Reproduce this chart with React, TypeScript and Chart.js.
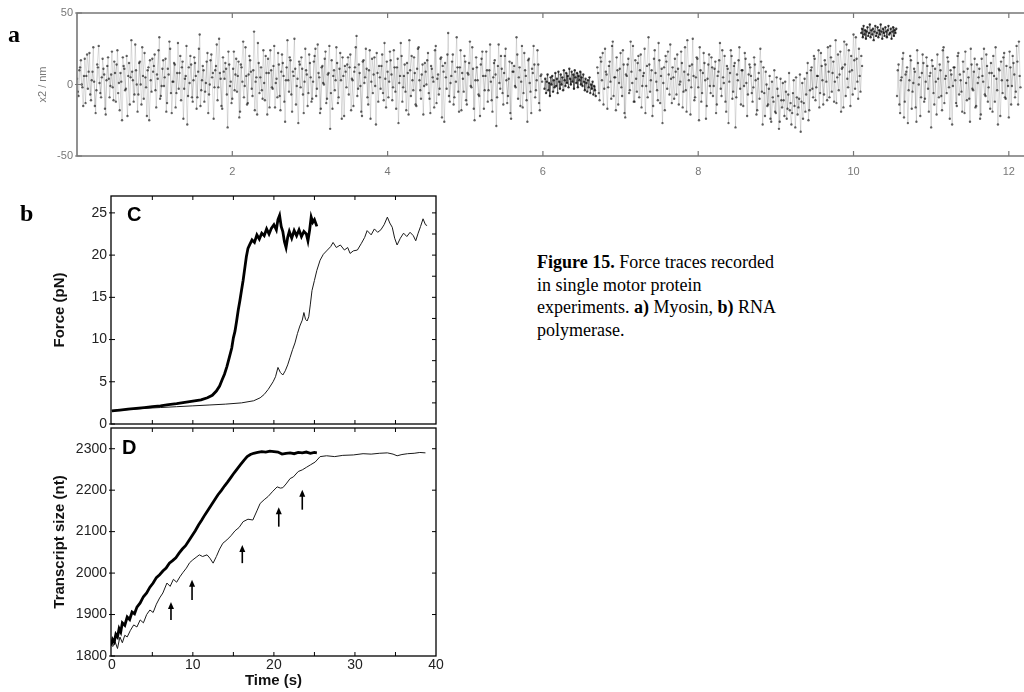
import React, { useEffect, useRef } from 'react';
import { Chart, registerables } from 'chart.js';

Chart.register(...registerables);

const SANS = '"Liberation Sans", Arial, Helvetica, sans-serif';
const SERIF = '"Liberation Serif", "Times New Roman", serif';

// ---------- Panel a (x2 / nm vs time) ----------
const A_STEP = 0.02;
const A_SEG1_START = 0;
const A_SEG1 = [
  4, -8, 12, 0, -15, 18, 6, -3, 22, -11, 9, 2, -20, 14, 27, -6, 5, 11, -17, 3, 19, -9, 7, -2, 16,
  -12, 24, 1, 8, -25, 13, -4, 20, 6, -14, 31, 3, -7, 10, -19, 15, 0, 26, -10, 5, -22, 12, 17, -5, 9,
  21, -16, 4, 33, -8, 11, -1, 18, -13, 7, 25, -20, 2, 14, -6, 29, 8, -11, 16, -3, 6, -28, 12, 20, -9,
  3, 15, -17, 9, 35, -4, 13, -12, 1, 22, -7, 17, 5, -24, 10, 28, -2, 8, -15, 19, 4, 11, -30, 14, 2,
  -10, 23, 7, -5, 16, -19, 12, 30, -1, 6, -13, 20, 9, -8, 37, 2, -21, 15, 5, -4, 24, -11, 8, 18, -16,
  10, -3, 27, 1, -9, 14, -18, 21, 6, -26, 12, 3, 19, -7, 9, 32, -14, 4, 16, -2, 11, -20, 25, 7, -6,
  15, -12, 2, 20, -8, 28, 5, -17, 13, 0, 23, -10, 8, -31, 17, 6, -4, 26, -13, 11, 3, 19, -22, 9, 14,
  -7, 21, 4, -15, 12, 34, -3, 8, -19, 16, 1, 25, -9, 10, -24, 18, 7, -1, 22, -12, 5, 13, -6, 29, -16,
  9, 2, 17, -11, 24, -5, 12, -27, 6, 20, -2, 14, -18, 8, 31, -8, 3, 19, -14, 11, 26, -4, 7, -21, 15,
  0, 22, -10, 13, 5, -16, 27, 4, -7, 18, -23, 9, 15, -3, 36, -12, 6, 21, -9, 2, 12, -19, 24, 8, -5,
  16, -14, 7, 30, -2, 11, -25, 19, 3, -8, 14, 23, -17, 6, 10, -4, 28, -11, 5, 17, -29, 13, 1, 20, -6,
  8, 25, -13, 4, -20, 15, 9, -1, 33, -10, 12, 2, -16, 22, 6, -26, 18, -5, 11, 27, -9, 3, 14, -18, 7,
];
const A_SEG1B_START = 0.01;
const A_SEG1B = [
  -5, 10, 17, -2, 6, -13, 21, 9, -7, 3, 26, -15, -4, 12, 1, -9, 18, 7, -21, 13, 4, -1, 23, -11, 8,
  14, -6, -18, 2, 19, 11, -3, -22, 15, 5, 9, -12, 28, 0, -7, 16, -14, 6, 22, -2, 10, -25, 3, 18, 13,
  -4, 7, 24, -10, -1, 17, 5, -19, 11, 30, -6, 2, 15, -16, 8, -3, 20, 12, -24, 4, 27, -8, 1, 14, -12,
  19, 6, -9, 25, -15, 3, 10, -5, 16, -20, 0, 21, 8, -2, 13, -11, 32, 4, -17, 9, 15, -7, 23, -1, -13,
  11, -4, 18, 6, -23, 14, 2, -9, 26, -14, 7, 17, -3, 10, -18, 5, 29, -6, 12, -10, 1, 20, -21, 8, 24,
  -2, 13, -16, 4, 22, -8, 9, 15, -12, 3, 31, -5, 17, -19, 6, 11, -1, -27, 14, 19, -7, 2, 10, -15, 21,
  5, -10, 16, 25, -3, 8, -20, 12, 1, 18, -13, 7, 27, -6, -17, 10, 3, 15, -9, 22, -24, 6, 13, -2, 19,
  12, -18, 3, 9, 26, -8, 14, -1, -22, 17, 5, 11, -14, 24, 2, -6, 19, -28, 8, 13, -3, 21, -11, 4, 16,
  -9, 23, 7, -2, 12, -17, 18, 1, 29, -12, 6, -5, 15, -21, 10, 20, -4, 8, -15, 25, 3, -10, 14, -1, 9,
  17, -6, -20, 11, 2, 24, -13, 7, -3, 19, 13, -26, 5, 21, -8, 1, 16, -14, 9, 33, -5, 12, -18, 4, 20,
  -11, 8, 15, -1, 26, -17, 3, 12, -7, -22, 18, 6, -4, 23, -12, 10, 2, -19, 15, 7, -9, 28, -3, 11, -14,
  20, 3, -8, 16, -24, 9, 13, -2, 21, 5, -15, 27, -6, 10, -11, 17, 1, -20, 8, 14, -4, 24, -13, 6, 2,
];
const A_SEG2_START = 6.7;
const A_SEG2 = [
  12, -6, 19, 3, -14, 25, 7, -2, 16, -10, 30, 5, -18, 10, 1, 22, -8, 14, -23, 6, 18, -4, 9, 27, -12,
  4, 15, -9, 21, -1, 8, -20, 13, 33, -5, 10, -15, 24, 2, -11, 17, 6, -27, 12, 20, -3, 7, 28, -13, 5,
  18, -7, 11, 0, 23, -16, 9, -4, 31, 3, -21, 14, 6, -9, 19, -2, 26, -12, 8, 15, -24, 4, 21, -6, 12,
  -1, 16, -14, 9, 29, -8, 5, 20, -19, 11, 2, 24, -10, 13, -30, 7, 17, -3, 10, -15, 22, 1, -7, 14, 6,
  -12, 19, 3, -18, 8, 25, -5, 12, -22, 0, -14, 6, -26, -9, 10, -20, -3, -31, 4, -16, -11, 2, -24, -7, -18,
  -28, -6, -15, 5, -21, -10, -33, 1, -13, -19, 8, -25, -4, 12, -9, 18, -2, 6, -16, 22, 3, -7, 14, -11, 9,
  27, -5, 16, 2, -13, 21, 7, -19, 12, 30, -8, 4, 24, -15, 10, 35, -3, 18, -10, 6, 20,
];
const A_SEG2B_START = 6.71;
const A_SEG2B = [
  8, -11, 16, 22, -3, 9, -17, 13, 2, 27, -8, 5, 19, -14, 11, -2, 24, -20, 7, 14, -6, 30, 1, -12, 17,
  -5, 20, 10, -16, 6, 25, -1, -9, 14, 3, -22, 18, 8, -4, 29, -13, 11, 1, -18, 16, 23, -7, 4, 12, -10,
  9, 21, -14, 2, 15, -5, 26, -19, 7, 13, -2, 32, -11, 5, 18, -25, 10, -6, 22, 3, -15, 14, -1, 19, -8,
  11, -20, 6, 17, -3, 24, 1, -12, 13, -27, 8, 20, -5, 15, -9, 3, 26, -14, 10, -1, 18, -22, 7, 12, -6,
  -2, 14, -21, 4, -10, 16, -28, -6, 9, -15, -3, -24, 2, -12, -19, 5, -8, -26, -11, 1, -22, -5, -17, 8, -13,
  -20, 3, -30, -9, -16, 7, -12, -24, 4, -7, 15, -18, 10, -3, 20, -11, 6, 24, -6, 13, -14, 17, 2, 26, -9,
  19, 8, -12, 31, 5, -4, 23, 11, -16, 14, 28, -2, 9, 20, -7, 17, 33, 2, 25, -5, 13,
];
const A_SEG3_START = 10.56;
const A_SEG3 = [
  -8, 14, -20, 5, 22, -12, 9, -27, 3, 17, -5, 11, -16, 24, 0, -22, 8, 15, -10, 19, -3, 6, -30, 13, -14,
  2, 21, -9, 10, -18, 26, 4, -6, 16, -24, 7, -1, 12, -13, 20, -7, 3, -19, 9, 23, -11, 5, -26, 14, -4,
  18, -15, 1, 11, -21, 6, 25, -8, 13, -2, -17, 8, 20, -12, 4, -28, 10, 16, -6, 22, -10, 3, -23, 12, -1,
  15, -9, 27, -14, 6,
];
const A_SEG3B_START = 10.57;
const A_SEG3B = [
  10, -14, 3, 18, -23, 7, 12, -4, 20, -17, 1, 9, -26, 15, 5, -9, 21, -12, 2, 13, -19, 8, 17, -6, 11,
  -21, 4, 14, -8, 24, -13, 6, 19, -2, 10, -28, 12, 3, -15, 22, 7, -5, 16, -20, 1, 11, -10, 25, -3, 9,
  -16, 14, 5, -24, 18, 2, -7, 21, -12, 8, 15, -19, 6, 26, -4, 11, -22, 3, 19, -9, 13, -1, 23, -14, 20,
  7, -5, 16, 30, -2,
];
const A_CL_STEP = 0.01;
const A_CL1_START = 6.02;
const A_CL1 = [
  -3, 4, -6, 2, 7, -4, 1, -8, 5, 0, 6, -5, 3, -2, 8, -1, 4, -6, 9, 2,
  -3, 7, 0, 5, -4, 10, 3, -1, 8, 1, 6, -2, 11, 4, 0, 9, 2, 7, -3, 10,
  5, 1, 8, -2, 6, 3, 9, 0, 5, -1, 7, 2, -4, 4, 1, -5, 3, -2, 5, -6,
  0, -3, 2, -7, -1, -4, -8,
];
const A_CL2_START = 10.1;
const A_CL2 = [
  36, 39, 33, 41, 35, 38, 32, 37, 40, 34, 36, 42, 33, 38, 35, 39, 31, 37, 41, 34,
  36, 40, 33, 38, 35, 42, 37, 32, 39, 36, 34, 40, 37, 33, 38, 41, 35, 36, 39, 32,
  37, 40, 34, 38, 36, 39,
];
const A_X_TICKS = [2, 4, 6, 8, 10, 12];
const A_Y_TICKS = [-50, 0, 50];

// ---------- Panel C (Force vs time) ----------
const C_THICK_T = [
  0, 1, 2, 3, 4, 5, 6, 7, 8, 9, 10, 11, 11.8, 12.4, 12.9, 13.3, 13.6, 13.9, 14.2, 14.5,
  14.8, 15.0, 15.2, 15.4, 15.6, 15.8, 16.0, 16.2, 16.4, 16.6, 16.8, 17.0, 17.3, 17.6, 17.9, 18.2, 18.5, 18.8, 19.1, 19.4,
  19.7, 20.0, 20.3, 20.5, 20.7, 20.9, 21.1, 21.3, 21.5, 21.7, 21.9, 22.2, 22.5, 22.8, 23.1, 23.4, 23.7, 24.0, 24.2, 24.4,
  24.6, 24.8, 25.0, 25.3,
];
const C_THICK_F = [
  1.55, 1.65, 1.75, 1.85, 1.95, 2.05, 2.15, 2.3, 2.4, 2.55, 2.7, 2.85, 3.1, 3.4, 3.9, 4.5, 5.2, 5.9, 6.8, 7.9,
  9.0, 10.2, 11.0, 12.2, 13.5, 14.6, 15.8, 17.0, 18.4, 19.8, 20.8, 21.2, 21.8, 21.5, 22.4, 21.9, 22.6, 22.3, 23.1, 22.5,
  23.2, 23.6, 23.0, 24.2, 24.7, 23.4, 22.8, 21.6, 20.9, 22.1, 22.8, 22.0, 22.9, 22.3, 23.0, 22.2, 22.8, 22.5, 21.7, 22.9,
  24.5, 23.9, 24.2, 23.4,
];
const C_THIN_T = [
  0, 2, 4, 6, 8, 10, 12, 14, 16, 17.5, 18.3, 18.8, 19.3, 19.9, 20.2, 20.5, 20.8, 21.1, 21.4, 21.7,
  22.0, 22.3, 22.6, 22.9, 23.2, 23.5, 23.7, 23.9, 24.1, 24.3, 24.5, 24.7, 25.0, 25.3, 25.7, 26.1, 26.6, 27.0, 27.3, 27.7,
  28.2, 28.7, 29.1, 29.4, 29.8, 30.3, 30.8, 31.2, 31.5, 32.0, 32.4, 32.8, 33.2, 33.6, 34.0, 34.3, 34.6, 34.9, 35.2, 35.6,
  36.0, 36.4, 36.8, 37.2, 37.5, 37.8, 38.1, 38.4, 38.7, 38.9,
];
const C_THIN_F = [
  1.6, 1.7, 1.85, 1.95, 2.05, 2.15, 2.25, 2.35, 2.5, 2.75, 3.1, 3.5, 4.1, 5.0, 5.6, 6.7, 6.1, 5.8, 6.3, 7.0,
  7.9, 8.8, 9.6, 10.7, 11.6, 12.3, 13.2, 12.4, 12.2, 12.7, 14.2, 15.8, 17.0, 18.2, 19.4, 20.1, 20.6, 21.0, 21.5, 20.9,
  21.2, 20.6, 20.9, 20.2, 20.5, 20.6, 21.4, 22.1, 22.9, 22.4, 23.1, 22.7, 23.0, 23.6, 24.5, 23.8, 23.3, 22.0, 21.2, 22.0,
  22.6, 22.2, 22.7, 22.3, 21.7, 22.6, 23.4, 24.3, 23.6, 23.5,
];
const C_Y_TICKS = [0, 5, 10, 15, 20, 25];
const C_Y_RIGHT_TICKS = [2.5, 5, 7.5, 10, 12.5, 15, 17.5, 20, 22.5, 25];

// ---------- Panel D (Transcript size vs time) ----------
const D_THICK_T = [
  -0.1, 0.1, 0.3, 0.5, 0.7, 0.9, 1.1, 1.3, 1.6, 1.9, 2.2, 2.5, 2.8, 3.1, 3.5, 3.9, 4.3, 4.7, 5.1, 5.5,
  5.9, 6.3, 6.7, 7.1, 7.5, 7.9, 8.3, 8.7, 9.1, 9.5, 9.9, 10.3, 10.7, 11.1, 11.5, 11.9, 12.3, 12.7, 13.1, 13.5,
  13.9, 14.3, 14.7, 15.1, 15.5, 15.9, 16.3, 16.7, 17.1, 17.5, 18.0, 18.5, 19.0, 19.5, 20.0, 20.5, 21.0, 21.5, 22.0, 22.5,
  23.0, 23.5, 24.0, 24.5, 25.0, 25.3,
];
const D_THICK_N = [
  1825, 1840, 1834, 1852, 1846, 1866, 1858, 1880, 1874, 1894, 1888, 1906, 1902, 1918, 1928, 1943, 1952, 1966, 1976, 1989,
  1996, 2005, 2012, 2024, 2030, 2037, 2048, 2058, 2066, 2078, 2090, 2102, 2116, 2128, 2141, 2153, 2165, 2177, 2189, 2199,
  2210, 2220, 2231, 2242, 2252, 2262, 2272, 2281, 2286, 2289, 2291, 2293, 2292, 2294, 2293, 2292, 2287, 2289, 2290, 2288,
  2291, 2290, 2292, 2289, 2291, 2290,
];
const D_THIN_T = [
  0.1, 0.4, 0.7, 1.0, 1.3, 1.6, 1.9, 2.3, 2.7, 3.1, 3.5, 3.9, 4.3, 4.7, 5.1, 5.5, 5.9, 6.3, 6.8, 7.2,
  7.6, 8.0, 8.4, 8.8, 9.2, 9.6, 10.0, 10.4, 10.8, 11.2, 11.75, 12.1, 12.5, 12.9, 13.3, 13.7, 14.2, 14.7, 15.2, 15.7,
  16.2, 16.8, 17.4, 17.9, 18.3, 18.8, 19.3, 19.8, 20.4, 20.8, 21.1, 21.5, 22.0, 22.4, 23.0, 23.5, 24.0, 24.5, 25.1, 25.7,
  26.5, 27.5, 28.5, 29.8, 31.0, 32.0, 33.0, 34.0, 34.7, 35.2, 35.8, 36.5, 37.3, 38.0, 38.7,
];
const D_THIN_N = [
  1822, 1835, 1818, 1846, 1832, 1850, 1846, 1862, 1875, 1870, 1887, 1880, 1900, 1911, 1905, 1925, 1940, 1952, 1976, 1968,
  1985, 1978, 1991, 2002, 2012, 2025, 2032, 2038, 2044, 2040, 2044, 2036, 2024, 2040, 2058, 2072, 2080, 2090, 2102, 2110,
  2124, 2130, 2128, 2150, 2168, 2177, 2185, 2196, 2208, 2205, 2206, 2215, 2228, 2232, 2245, 2249, 2255, 2261, 2268, 2281,
  2283, 2281, 2284, 2285, 2288, 2287, 2289, 2290, 2287, 2283, 2286, 2288, 2289, 2291, 2290,
];
const D_Y_TICKS = [1800, 1900, 2000, 2100, 2200, 2300];
const D_Y_RIGHT_TICKS = [1900, 2000, 2100, 2200, 2300];
const ARROW_T = [7.3, 9.9, 16.1, 20.6, 23.5];
const ARROW_BASE = [1887, 1935, 2024, 2112, 2153];
const ARROW_TIP = [1930, 1984, 2068, 2159, 2201];

const TIME_LABEL_TICKS = [0, 10, 20, 30, 40];
const TIME_MINOR_TICKS = [5, 10, 15, 20, 25, 30, 35];

// ---------- plugins ----------
const framePlugin: any = {
  id: 'frame',
  afterDatasetsDraw(chart: any, _args: any, opts: any) {
    if (!opts || !opts.enabled) return;
    const { ctx, chartArea: a, scales } = chart;
    ctx.save();
    ctx.strokeStyle = opts.color;
    ctx.lineWidth = opts.width;
    if (opts.rightEdge) {
      ctx.strokeRect(a.left, a.top, a.right - a.left, a.bottom - a.top);
    } else {
      ctx.beginPath();
      ctx.moveTo(a.right + 20, a.top);
      ctx.lineTo(a.left, a.top);
      ctx.lineTo(a.left, a.bottom);
      ctx.lineTo(a.right + 20, a.bottom);
      ctx.stroke();
    }
    ctx.lineWidth = opts.tickWidth;
    const L = opts.tickLen;
    ctx.beginPath();
    (opts.xTop || []).forEach((v: number) => {
      const x = scales.x.getPixelForValue(v);
      ctx.moveTo(x, a.top);
      ctx.lineTo(x, a.top + L);
    });
    (opts.xBottom || []).forEach((v: number) => {
      const x = scales.x.getPixelForValue(v);
      ctx.moveTo(x, a.bottom);
      ctx.lineTo(x, a.bottom - L);
    });
    (opts.yLeft || []).forEach((v: number) => {
      const y = scales.y.getPixelForValue(v);
      ctx.moveTo(a.left - 2, y);
      ctx.lineTo(a.left + L, y);
    });
    (opts.yRight || []).forEach((v: number) => {
      const y = scales.y.getPixelForValue(v);
      ctx.moveTo(a.right, y);
      ctx.lineTo(a.right - L, y);
    });
    ctx.stroke();
    ctx.restore();
  },
};

const arrowPlugin: any = {
  id: 'arrows',
  afterDatasetsDraw(chart: any, _args: any, opts: any) {
    if (!opts || !opts.enabled) return;
    const { ctx, scales } = chart;
    ctx.save();
    ctx.strokeStyle = '#000';
    ctx.fillStyle = '#000';
    ctx.lineWidth = 1.6;
    ARROW_T.forEach((t, i) => {
      const px = scales.x.getPixelForValue(t);
      const yb = scales.y.getPixelForValue(ARROW_BASE[i]);
      const yt = scales.y.getPixelForValue(ARROW_TIP[i]);
      ctx.beginPath();
      ctx.moveTo(px, yb);
      ctx.lineTo(px, yt + 5);
      ctx.stroke();
      ctx.beginPath();
      ctx.moveTo(px, yt);
      ctx.lineTo(px - 3, yt + 7);
      ctx.lineTo(px + 3, yt + 7);
      ctx.closePath();
      ctx.fill();
    });
    ctx.restore();
  },
};

// ---------- helpers ----------
const series = (start: number, step: number, ys: number[]) =>
  ys.map((y, i) => ({ x: start + i * step, y }));
const pairs = (xs: number[], ys: number[]) => xs.map((x, i) => ({ x, y: ys[i] }));
const fixTicks = (vals: number[]) => (s: any) => {
  s.ticks = vals.map((v) => ({ value: v }));
};
const plainLabel = (v: any) => String(v);

const noiseStyle = {
  borderColor: 'rgba(0,0,0,0.17)',
  borderWidth: 0.8,
  pointRadius: 1.2,
  pointBorderWidth: 0,
  pointBackgroundColor: 'rgba(0,0,0,0.6)',
  showLine: true,
  tension: 0,
};
const clusterStyle = {
  ...noiseStyle,
  borderColor: 'rgba(0,0,0,0.5)',
  pointBackgroundColor: 'rgba(0,0,0,0.75)',
};

function configA(): any {
  return {
    type: 'line',
    data: {
      datasets: [
        { data: series(A_SEG1_START, A_STEP, A_SEG1), ...noiseStyle },
        { data: series(A_SEG1B_START, A_STEP, A_SEG1B), ...noiseStyle },
        { data: series(A_SEG2_START, A_STEP, A_SEG2), ...noiseStyle },
        { data: series(A_SEG2B_START, A_STEP, A_SEG2B), ...noiseStyle },
        { data: series(A_SEG3_START, A_STEP, A_SEG3), ...noiseStyle },
        { data: series(A_SEG3B_START, A_STEP, A_SEG3B), ...noiseStyle },
        { data: series(A_CL1_START, A_CL_STEP, A_CL1), ...clusterStyle },
        { data: series(A_CL2_START, A_CL_STEP, A_CL2), ...clusterStyle },
      ],
    },
    options: {
      animation: false,
      responsive: false,
      events: [],
      layout: { padding: { top: 13, left: 0, right: 0, bottom: 0 } },
      plugins: {
        legend: { display: false },
        tooltip: { enabled: false },
        frame: {
          enabled: true, rightEdge: false, color: '#777', width: 1.6, tickWidth: 1.2, tickLen: 5,
          xTop: A_X_TICKS, xBottom: A_X_TICKS, yLeft: A_Y_TICKS, yRight: [],
        },
      },
      scales: {
        x: {
          type: 'linear', min: 0, max: 12.35,
          grid: { display: false, drawTicks: false }, border: { display: false },
          ticks: { color: '#777', font: { size: 11, family: SANS }, padding: 9, autoSkip: false, maxRotation: 0, callback: plainLabel },
          afterBuildTicks: fixTicks(A_X_TICKS),
          afterFit: (s: any) => { s.height = 34; },
        },
        y: {
          type: 'linear', min: -50, max: 50,
          grid: { display: false, drawTicks: false }, border: { display: false },
          ticks: { color: '#777', font: { size: 11, family: SANS }, padding: 4, autoSkip: false, callback: plainLabel },
          afterBuildTicks: fixTicks(A_Y_TICKS),
          title: { display: true, text: 'x2 / nm', color: '#777', font: { size: 11, family: SANS }, padding: { top: 36, bottom: 0 } },
          afterFit: (s: any) => { s.width = 77; },
        },
      },
    },
    plugins: [framePlugin],
  };
}

function configC(): any {
  return {
    type: 'line',
    data: {
      datasets: [
        { data: pairs(C_THICK_T, C_THICK_F), borderColor: '#000', borderWidth: 2.8, pointRadius: 0, tension: 0 },
        { data: pairs(C_THIN_T, C_THIN_F), borderColor: '#1a1a1a', borderWidth: 1.0, pointRadius: 0, tension: 0 },
      ],
    },
    options: {
      animation: false,
      responsive: false,
      events: [],
      layout: { padding: { top: 26, left: 0, right: 24, bottom: 26 } },
      plugins: {
        legend: { display: false },
        tooltip: { enabled: false },
        frame: {
          enabled: true, rightEdge: true, color: '#000', width: 1.3, tickWidth: 1, tickLen: 4,
          xTop: TIME_MINOR_TICKS, xBottom: TIME_MINOR_TICKS, yLeft: C_Y_TICKS, yRight: C_Y_RIGHT_TICKS,
        },
      },
      scales: {
        x: { type: 'linear', min: -0.1, max: 40, display: false },
        y: {
          type: 'linear', min: 0, max: 27,
          grid: { display: false, drawTicks: false }, border: { display: false },
          ticks: { color: '#222', font: { size: 14, family: SANS }, padding: 4, autoSkip: false, callback: plainLabel },
          afterBuildTicks: fixTicks(C_Y_TICKS),
          title: { display: true, text: 'Force (pN)', color: '#111', font: { size: 15, weight: 'bold', family: SANS }, padding: { top: 51, bottom: 0 } },
          afterFit: (s: any) => { s.width = 111; },
        },
      },
    },
    plugins: [framePlugin],
  };
}

function configD(): any {
  return {
    type: 'line',
    data: {
      datasets: [
        { data: pairs(D_THICK_T, D_THICK_N), borderColor: '#000', borderWidth: 2.8, pointRadius: 0, tension: 0 },
        { data: pairs(D_THIN_T, D_THIN_N), borderColor: '#1a1a1a', borderWidth: 1.0, pointRadius: 0, tension: 0 },
      ],
    },
    options: {
      animation: false,
      responsive: false,
      events: [],
      layout: { padding: { top: 28, left: 0, right: 24, bottom: 0 } },
      plugins: {
        legend: { display: false },
        tooltip: { enabled: false },
        frame: {
          enabled: true, rightEdge: true, color: '#000', width: 1.3, tickWidth: 1, tickLen: 4,
          xTop: TIME_MINOR_TICKS, xBottom: TIME_MINOR_TICKS, yLeft: D_Y_TICKS, yRight: D_Y_RIGHT_TICKS,
        },
        arrows: { enabled: true },
      },
      scales: {
        x: {
          type: 'linear', min: -0.1, max: 40,
          grid: { display: false, drawTicks: false }, border: { display: false },
          ticks: { color: '#222', font: { size: 14, family: SANS }, padding: 1, autoSkip: false, maxRotation: 0, callback: plainLabel },
          afterBuildTicks: fixTicks(TIME_LABEL_TICKS),
          title: { display: true, text: 'Time (s)', color: '#111', font: { size: 15, weight: 'bold', family: SANS }, padding: { top: 0, bottom: 10 } },
          afterFit: (s: any) => { s.height = 44; },
        },
        y: {
          type: 'linear', min: 1800, max: 2350,
          grid: { display: false, drawTicks: false }, border: { display: false },
          ticks: { color: '#222', font: { size: 14, family: SANS }, padding: 4, autoSkip: false, callback: plainLabel },
          afterBuildTicks: fixTicks(D_Y_TICKS),
          title: { display: true, text: 'Transcript size (nt)', color: '#111', font: { size: 15, weight: 'bold', family: SANS }, padding: { top: 51, bottom: 0 } },
          afterFit: (s: any) => { s.width = 111; },
        },
      },
    },
    plugins: [framePlugin, arrowPlugin],
  };
}

export default function App() {
  const aRef = useRef<HTMLCanvasElement>(null);
  const cRef = useRef<HTMLCanvasElement>(null);
  const dRef = useRef<HTMLCanvasElement>(null);

  useEffect(() => {
    const charts = [
      new Chart(aRef.current as HTMLCanvasElement, configA()),
      new Chart(cRef.current as HTMLCanvasElement, configC()),
      new Chart(dRef.current as HTMLCanvasElement, configD()),
    ];
    return () => charts.forEach((c) => c.destroy());
  }, []);

  const abs = (left: number, top: number): React.CSSProperties => ({ position: 'absolute', left, top });

  return (
    <div style={{ position: 'absolute', left: 0, top: 0, width: 1024, height: 692, overflow: 'hidden', background: '#fff' }}>
      <canvas ref={aRef} width={1040} height={190} style={{ ...abs(0, 0) }} />
      <canvas ref={cRef} width={460} height={280} style={{ ...abs(0, 170) }} />
      <canvas ref={dRef} width={460} height={300} style={{ ...abs(0, 400) }} />

      <div style={{ ...abs(8, 22), fontFamily: SERIF, fontWeight: 'bold', fontSize: 24, lineHeight: '24px' }}>a</div>
      <div style={{ ...abs(20, 201), fontFamily: SERIF, fontWeight: 'bold', fontSize: 24, lineHeight: '24px' }}>b</div>
      <div style={{ ...abs(127, 204), fontFamily: SANS, fontWeight: 'bold', fontSize: 20, lineHeight: '20px' }}>C</div>
      <div style={{ ...abs(122, 437), fontFamily: SANS, fontWeight: 'bold', fontSize: 20, lineHeight: '20px' }}>D</div>

      <div style={{ ...abs(537, 251), fontFamily: SERIF, fontSize: 18, lineHeight: '22.7px', color: '#000', whiteSpace: 'nowrap' }}>
        <b>Figure 15.</b> Force traces recorded
        <br />
        in single motor protein
        <br />
        experiments. <b>a)</b> Myosin, <b>b)</b> RNA
        <br />
        polymerase.
      </div>
    </div>
  );
}
